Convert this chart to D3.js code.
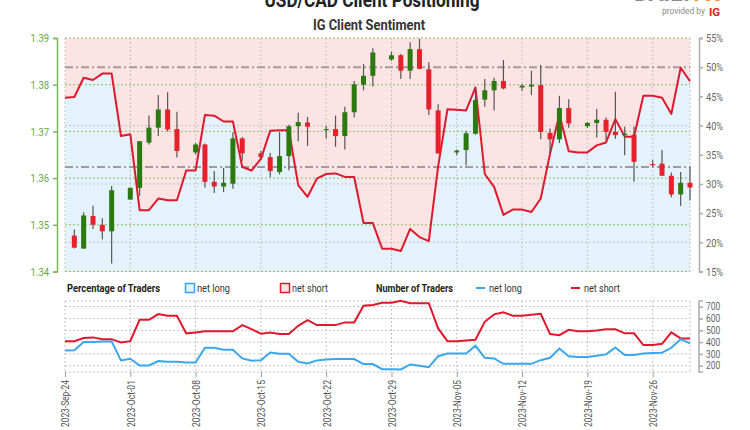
<!DOCTYPE html>
<html><head><meta charset="utf-8">
<script src="https://cdn.jsdelivr.net/npm/d3@7"></script>
<style>
html,body{margin:0;padding:0;background:#fff;}
svg{display:block;font-family:"Roboto",sans-serif;}
</style></head>
<body><svg id="c" width="750" height="430"></svg>
<script>
// ---------- data ----------
const candleDates = ["2023-09-25","2023-09-26","2023-09-27","2023-09-28","2023-09-29","2023-10-01","2023-10-02","2023-10-03","2023-10-04","2023-10-05","2023-10-06","2023-10-08","2023-10-09","2023-10-10","2023-10-11","2023-10-12","2023-10-13","2023-10-15","2023-10-16","2023-10-17","2023-10-18","2023-10-19","2023-10-20","2023-10-22","2023-10-23","2023-10-24","2023-10-25","2023-10-26","2023-10-27","2023-10-29","2023-10-30","2023-10-31","2023-11-01","2023-11-02","2023-11-03","2023-11-05","2023-11-06","2023-11-07","2023-11-08","2023-11-09","2023-11-10","2023-11-12","2023-11-13","2023-11-14","2023-11-15","2023-11-16","2023-11-17","2023-11-19","2023-11-20","2023-11-21","2023-11-22","2023-11-23","2023-11-24","2023-11-26","2023-11-27","2023-11-28","2023-11-29","2023-11-30"];
const openP  = [1.3477,1.3449,1.3519,1.3500,1.3486,1.3554,1.3579,1.3676,1.3708,1.3747,1.3705,1.3655,1.3672,1.3592,1.3582,1.3588,1.3685,1.3653,1.3645,1.3613,1.3647,1.3711,1.3719,1.3703,1.3705,1.3690,1.3741,1.3800,1.3819,1.3854,1.3863,1.3830,1.3876,1.3833,1.3745,1.3655,1.3660,1.3695,1.3768,1.3788,1.3808,1.3794,1.3796,1.3799,1.3697,1.3683,1.3750,1.3711,1.3718,1.3725,1.3699,1.3692,1.3693,1.3630,1.3631,1.3605,1.3565,1.3590];
const highP  = [1.3490,1.3527,1.3541,1.3514,1.3583,1.3580,1.3679,1.3734,1.3778,1.3784,1.3742,1.3675,1.3674,1.3615,1.3622,1.3698,1.3688,1.3658,1.3654,1.3699,1.3714,1.3740,1.3731,1.3712,1.3734,1.3753,1.3808,1.3844,1.3878,1.3870,1.3866,1.3891,1.3898,1.3848,1.3758,1.3661,1.3701,1.3796,1.3812,1.3815,1.3853,1.3801,1.3830,1.3842,1.3706,1.3776,1.3769,1.3720,1.3748,1.3730,1.3785,1.3710,1.3710,1.3638,1.3660,1.3612,1.3613,1.3625];
const lowP   = [1.3449,1.3449,1.3491,1.3469,1.3417,1.3554,1.3562,1.3672,1.3690,1.3700,1.3644,1.3651,1.3580,1.3568,1.3570,1.3577,1.3637,1.3642,1.3602,1.3608,1.3617,1.3679,1.3669,1.3685,1.3667,1.3661,1.3730,1.3788,1.3796,1.3851,1.3812,1.3812,1.3833,1.3735,1.3652,1.3649,1.3627,1.3693,1.3753,1.3745,1.3790,1.3787,1.3778,1.3683,1.3654,1.3675,1.3708,1.3708,1.3687,1.3681,1.3684,1.3649,1.3592,1.3624,1.3605,1.3559,1.3540,1.3552];
const closeP = [1.3451,1.3520,1.3500,1.3486,1.3574,1.3579,1.3679,1.3708,1.3747,1.3704,1.3658,1.3672,1.3592,1.3582,1.3590,1.3685,1.3653,1.3645,1.3615,1.3647,1.3711,1.3720,1.3710,1.3705,1.3690,1.3741,1.3801,1.3819,1.3869,1.3863,1.3830,1.3876,1.3834,1.3747,1.3653,1.3659,1.3696,1.3767,1.3788,1.3808,1.3792,1.3798,1.3800,1.3699,1.3683,1.3750,1.3717,1.3718,1.3725,1.3699,1.3692,1.3695,1.3635,1.3628,1.3605,1.3565,1.3590,1.3580];

// daily sentiment series, 2023-09-24 .. 2023-11-30
const sentimentStart = "2023-09-24";
const pctNetLong = [44.75,44.9,48.2,47.8,48.9,48.9,38.2,38.5,25.5,25.5,27.5,27.2,27.2,32.3,32.3,41.8,41.7,40.7,40.7,32.9,32.3,34.3,39.1,39.2,39.2,29.8,27.8,30.9,31.7,31.8,31.2,31.2,23.3,23.3,18.9,18.9,18.5,22.3,20.9,20.2,33.0,42.8,42.7,42.6,46.5,31.7,29.5,24.7,25.6,25.6,25.2,27.5,35.2,41.9,35.6,35.4,35.4,36.6,37.1,41.1,38.1,38.1,45.1,45.1,44.75,42.0,49.9,47.6];
const numNetLong = [330,332,400,400,406,406,245,259,202,202,239,233,233,228,228,352,352,335,335,262,242,247,312,301,301,233,219,245,253,256,256,256,214,214,171,171,169,211,199,188,281,304,304,304,369,267,262,216,216,216,216,247,267,346,281,273,273,284,296,355,290,290,304,307,310,352,425,389];
const numNetShort = [408,408,434,440,425,425,397,408,589,589,637,623,623,474,482,491,491,491,491,544,510,471,482,468,468,538,586,544,544,544,567,567,708,714,733,733,750,730,730,730,516,408,408,414,420,572,635,652,623,623,631,640,468,459,504,493,493,499,508,508,474,474,375,375,386,482,431,431];

const priceTicks = [1.34,1.35,1.36,1.37,1.38,1.39];
const pctTicks = [15,20,25,30,35,40,45,50,55];
const pctGrid = [20,30,40];
const refLevels = [50,32.9];
const numTicks = [200,300,400,500,600,700];
const weekTicks = ["2023-09-24","2023-10-01","2023-10-08","2023-10-15","2023-10-22","2023-10-29","2023-11-05","2023-11-12","2023-11-19","2023-11-26"];

// ---------- setup ----------
const parse = d3.utcParse("%Y-%m-%d");
const fmt = d3.utcFormat("%Y-%b-%d");
const svg = d3.select("#c");
const L = 65, R = 690, T1 = 38, B1 = 271.5, T2 = 301, B2 = 372;

const x = d3.scaleUtc().domain([parse("2023-09-24"), parse("2023-11-30")]).range([L, R]);
const yP = d3.scaleLinear().domain([1.34,1.39]).range([B1,T1]);
const yPct = d3.scaleLinear().domain([15,55]).range([B1,T1]);
const yN = d3.scaleLinear().domain([147,748]).range([B2,T2]);

const candles = candleDates.map((d,i)=>({date:parse(d),o:openP[i],h:highP[i],l:lowP[i],c:closeP[i]}));
const s0 = parse(sentimentStart);
const daily = pctNetLong.map((p,i)=>({date:d3.utcDay.offset(s0,i),pct:p,lg:numNetLong[i],sh:numNetShort[i]}));

const RED="#e8202a", GREEN="#2b7a10", BLUE="#3aa6ee", LINE_RED="#e0182d";

function squeeze(sel, ratio){
  sel.each(function(){
    const w = this.getComputedTextLength();
    d3.select(this).attr("textLength", w*ratio).attr("lengthAdjust","spacingAndGlyphs");
  });
}

// ---------- header ----------
svg.append("text").attr("x",372).attr("y",7).attr("text-anchor","middle")
  .attr("font-size",20).attr("font-weight","bold").attr("fill","#222").text("USD/CAD Client Positioning")
  .attr("textLength",215).attr("lengthAdjust","spacingAndGlyphs");
const logo = svg.append("text").attr("x",634).attr("y",1).attr("font-size",16).attr("font-weight","bold")
  .attr("textLength",86).attr("lengthAdjust","spacingAndGlyphs");
logo.append("tspan").attr("fill","#8a8a8a").text("DAILY");
logo.append("tspan").attr("fill","#f7931e").text("FX");
svg.append("text").attr("x",705).attr("y",14).attr("text-anchor","end").attr("font-size",9).attr("fill","#8a8a8a").text("provided by")
  .attr("textLength",43).attr("lengthAdjust","spacingAndGlyphs");
svg.append("text").attr("x",709).attr("y",15.5).attr("font-size",11.5).attr("font-weight","bold").attr("fill","#e3191f").text("IG");
svg.append("text").attr("x",369).attr("y",29.5).attr("text-anchor","middle")
  .attr("font-size",15).attr("font-weight","bold").attr("fill","#333").text("IG Client Sentiment")
  .attr("textLength",112).attr("lengthAdjust","spacingAndGlyphs");

// ---------- top panel ----------
const topG = svg.append("g");
topG.append("rect").attr("x",L).attr("y",T1).attr("width",R-L).attr("height",B1-T1).attr("fill","#fce3e4");
topG.append("path").datum(daily).attr("fill","#e4f2fb")
  .attr("d", d3.area().x(d=>x(d.date)).y0(B1).y1(d=>yPct(d.pct)));

const vgrid = weekTicks.map(parse);
topG.selectAll(".vg").data(vgrid).join("line")
  .attr("x1",d=>x(d)).attr("x2",d=>x(d)).attr("y1",T1).attr("y2",B1)
  .attr("stroke","#c4c4c4").attr("stroke-dasharray","2,2");
topG.append("line").attr("x1",R).attr("x2",R).attr("y1",T1).attr("y2",B1).attr("stroke","#c4c4c4").attr("stroke-dasharray","2,2");
topG.selectAll(".pg").data(pctGrid).join("line")
  .attr("x1",L).attr("x2",R).attr("y1",d=>yPct(d)).attr("y2",d=>yPct(d))
  .attr("stroke","#c4c4c4").attr("stroke-dasharray","2,2");
topG.selectAll(".gg").data(priceTicks).join("line")
  .attr("x1",L).attr("x2",R).attr("y1",d=>yP(d)).attr("y2",d=>yP(d))
  .attr("stroke","#8cc068").attr("stroke-dasharray","2,2");
topG.selectAll(".rl").data(refLevels).join("line")
  .attr("x1",L).attr("x2",R).attr("y1",d=>yPct(d)).attr("y2",d=>yPct(d))
  .attr("stroke","#a39a9a").attr("stroke-width",2).attr("stroke-dasharray","8,3,2,3");

topG.append("path").datum(daily).attr("fill","none").attr("stroke",LINE_RED).attr("stroke-width",2)
  .attr("stroke-linejoin","round")
  .attr("d", d3.line().x(d=>x(d.date)).y(d=>yPct(d.pct)));

const cg = topG.selectAll(".cd").data(candles).join("g");
cg.append("line").attr("x1",d=>x(d.date)).attr("x2",d=>x(d.date))
  .attr("y1",d=>yP(d.h)).attr("y2",d=>yP(d.l)).attr("stroke","#555").attr("stroke-width",1.2);
cg.append("rect").attr("x",d=>x(d.date)-2.5).attr("width",5)
  .attr("y",d=>yP(Math.max(d.o,d.c)))
  .attr("height",d=>Math.max(1.2, Math.abs(yP(d.o)-yP(d.c))))
  .attr("fill",d=>d.c>=d.o?GREEN:RED);

const la = svg.append("g").attr("transform",`translate(57,0)`)
  .call(d3.axisLeft(yP).tickValues(priceTicks).tickFormat(d3.format(".2f")).tickSize(4).tickPadding(4));
la.select(".domain").attr("stroke","#7cb85a").attr("stroke-width",1.5);
la.selectAll(".tick line").attr("stroke","#7cb85a").attr("stroke-width",1.5);
la.selectAll("text").attr("fill","#62a83c").attr("font-size",11.5).attr("font-family","Roboto, sans-serif").call(squeeze,0.82);

const ra = svg.append("g").attr("transform",`translate(699,0)`)
  .call(d3.axisRight(yPct).tickValues(pctTicks).tickFormat(d=>d+"%").tickSize(4).tickPadding(3));
ra.select(".domain").attr("stroke","#aaa").attr("stroke-width",1.5);
ra.selectAll(".tick line").attr("stroke","#aaa").attr("stroke-width",1.5);
ra.selectAll("text").attr("fill","#666").attr("font-size",11.5).attr("font-family","Roboto, sans-serif").call(squeeze,0.8);

// ---------- legends ----------
const lg = svg.append("g").attr("font-size",11.5);
lg.append("text").attr("x",67).attr("y",292).attr("font-weight","bold").attr("fill","#222").text("Percentage of Traders").attr("textLength",93).attr("lengthAdjust","spacingAndGlyphs");
lg.append("rect").attr("x",185.5).attr("y",283.5).attr("width",9).attr("height",9).attr("fill","#e4f2fb").attr("stroke",BLUE).attr("stroke-width",1.5);
lg.append("text").attr("x",197).attr("y",292).attr("fill","#333").text("net long").attr("textLength",33).attr("lengthAdjust","spacingAndGlyphs");
lg.append("rect").attr("x",280.5).attr("y",283.5).attr("width",9).attr("height",9).attr("fill","#fce3e4").attr("stroke",LINE_RED).attr("stroke-width",1.5);
lg.append("text").attr("x",292).attr("y",292).attr("fill","#333").text("net short").attr("textLength",36).attr("lengthAdjust","spacingAndGlyphs");
lg.append("text").attr("x",376).attr("y",292).attr("font-weight","bold").attr("fill","#222").text("Number of Traders").attr("textLength",77).attr("lengthAdjust","spacingAndGlyphs");
lg.append("line").attr("x1",476).attr("x2",485).attr("y1",288).attr("y2",288).attr("stroke",BLUE).attr("stroke-width",2);
lg.append("text").attr("x",489).attr("y",292).attr("fill","#333").text("net long").attr("textLength",33).attr("lengthAdjust","spacingAndGlyphs");
lg.append("line").attr("x1",571).attr("x2",580).attr("y1",288).attr("y2",288).attr("stroke",LINE_RED).attr("stroke-width",2);
lg.append("text").attr("x",584).attr("y",292).attr("fill","#333").text("net short").attr("textLength",36).attr("lengthAdjust","spacingAndGlyphs");

// ---------- bottom panel ----------
const bp = svg.append("g");
bp.selectAll(".bv").data(vgrid).join("line")
  .attr("x1",d=>x(d)).attr("x2",d=>x(d)).attr("y1",T2).attr("y2",B2)
  .attr("stroke","#c4c4c4").attr("stroke-dasharray","2,2");
bp.append("line").attr("x1",R).attr("x2",R).attr("y1",T2).attr("y2",B2).attr("stroke","#c4c4c4").attr("stroke-dasharray","2,2");
bp.selectAll(".bh").data(numTicks).join("line")
  .attr("x1",L).attr("x2",R).attr("y1",d=>yN(d)).attr("y2",d=>yN(d))
  .attr("stroke","#c4c4c4").attr("stroke-dasharray","2,2");
[T2,B2].forEach(yy=>bp.append("line").attr("x1",L).attr("x2",R).attr("y1",yy).attr("y2",yy)
  .attr("stroke","#c4c4c4").attr("stroke-dasharray","2,2"));
bp.append("path").datum(daily).attr("fill","none").attr("stroke",LINE_RED).attr("stroke-width",2)
  .attr("d", d3.line().x(d=>x(d.date)).y(d=>yN(d.sh)));
bp.append("path").datum(daily).attr("fill","none").attr("stroke",BLUE).attr("stroke-width",2)
  .attr("d", d3.line().x(d=>x(d.date)).y(d=>yN(d.lg)));

const rb = svg.append("g").attr("transform",`translate(699,0)`)
  .call(d3.axisRight(yN).tickValues(numTicks).tickSize(4).tickPadding(3));
rb.select(".domain").attr("stroke","#aaa").attr("stroke-width",1.5).attr("d",`M4,${T2}H0V${B2}H4`);
rb.selectAll(".tick line").attr("stroke","#aaa").attr("stroke-width",1.5);
rb.selectAll("text").attr("fill","#666").attr("font-size",10).attr("font-family","Roboto, sans-serif").call(squeeze,0.85);

const xa = svg.append("g").attr("transform",`translate(0,${B2})`)
  .call(d3.axisBottom(x).tickValues(vgrid).tickFormat(fmt).tickSize(5).tickPadding(3));
xa.select(".domain").remove();
xa.selectAll(".tick line").attr("stroke","#999");
xa.selectAll("text").attr("fill","#555").attr("font-size",11).attr("font-family","Roboto, sans-serif")
  .attr("text-anchor","end").attr("transform","rotate(-90)").attr("x",-8).attr("y",0).attr("dy","0.35em")
  .attr("textLength",47).attr("lengthAdjust","spacingAndGlyphs");
</script></body></html>
